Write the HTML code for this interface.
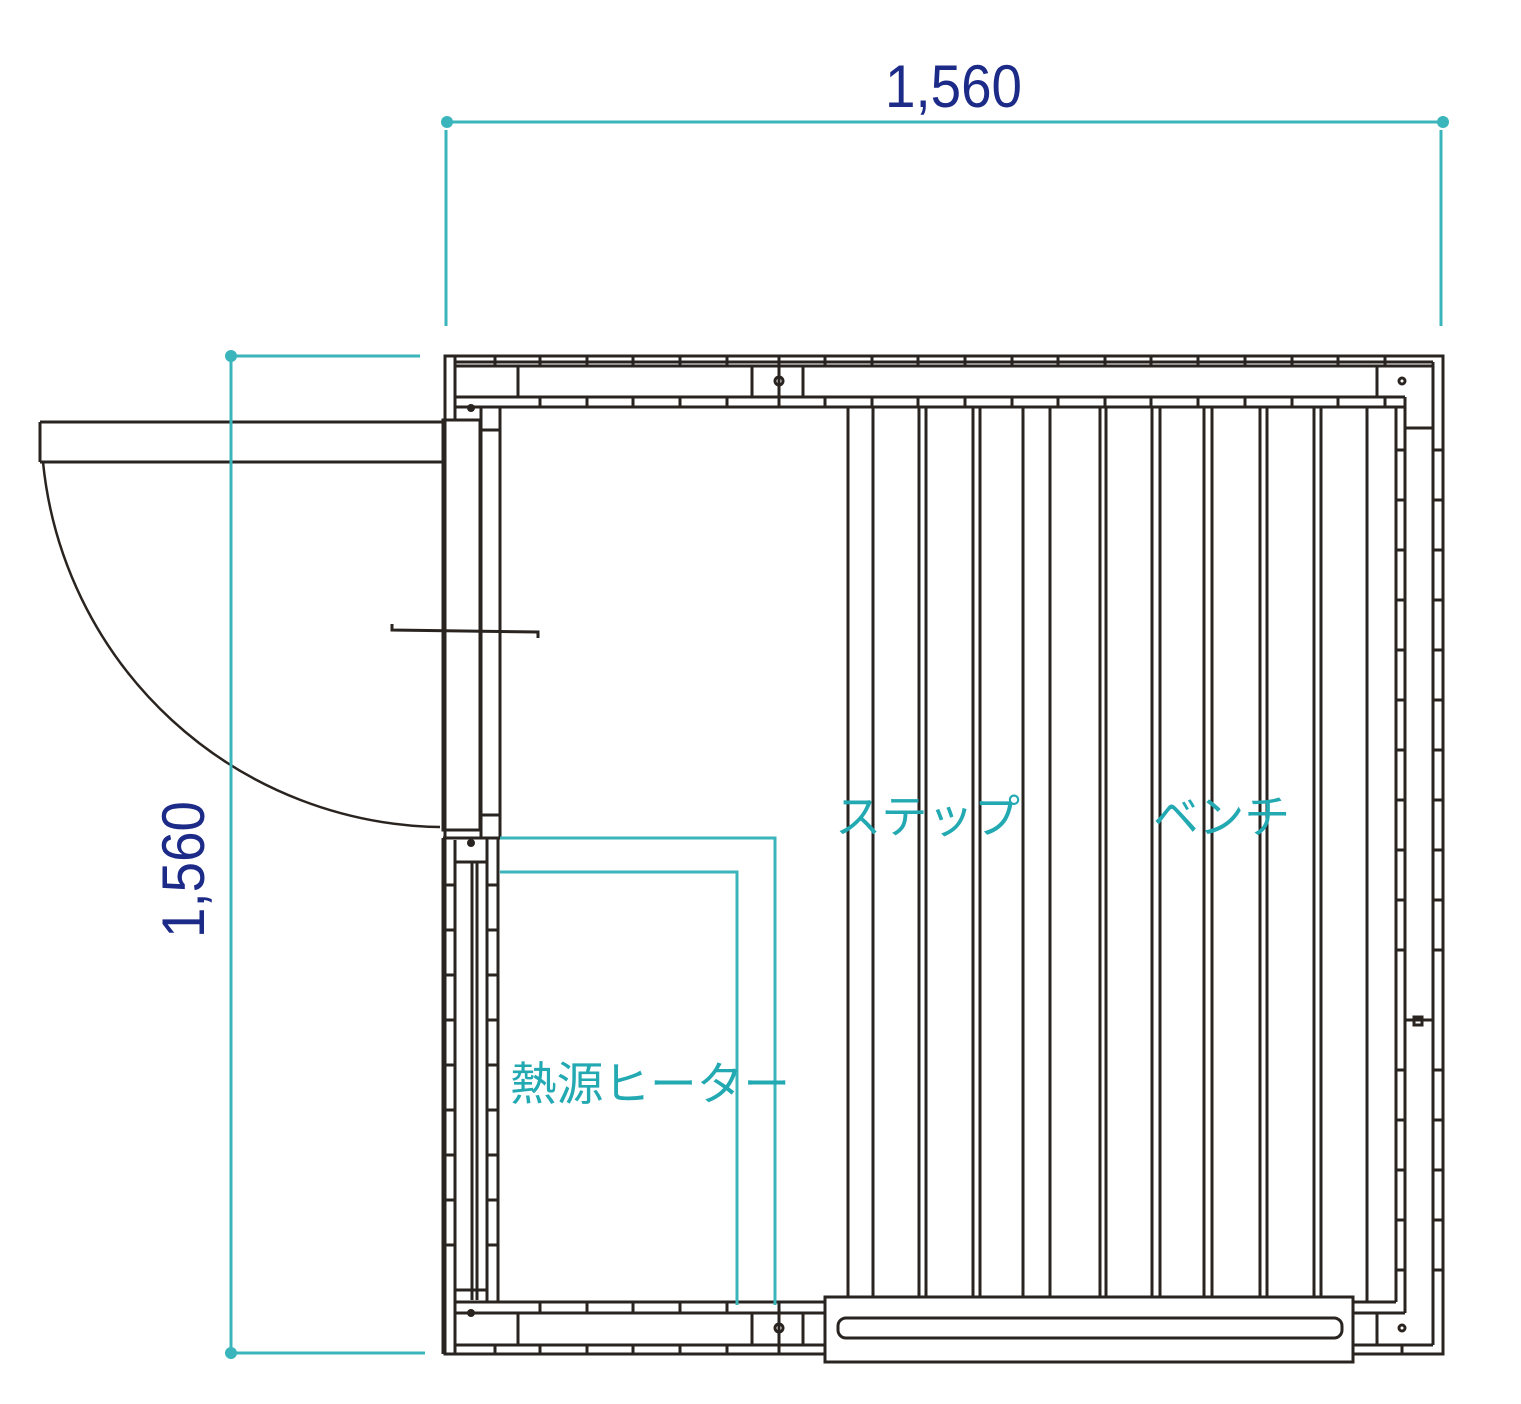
<!DOCTYPE html>
<html><head><meta charset="utf-8"><style>
html,body{margin:0;padding:0;background:#fff;}
svg{display:block;}
</style></head><body>
<svg width="1521" height="1404" viewBox="0 0 1521 1404" xmlns="http://www.w3.org/2000/svg">
<g stroke="#2a2420" stroke-width="3" fill="none">
  <rect x="445" y="356" width="998" height="998"/>
  <line x1="455" y1="362" x2="1433" y2="362"/>
  <line x1="455" y1="366" x2="1433" y2="366"/>
  <line x1="455" y1="397" x2="1405" y2="397"/>
  <line x1="455" y1="407" x2="1405" y2="407"/>
  <line x1="455" y1="356" x2="455" y2="420"/>
  <line x1="455" y1="840" x2="455" y2="1354"/>
  <line x1="1433" y1="362" x2="1433" y2="1345"/>
  <line x1="1405" y1="397" x2="1405" y2="1313"/>
  <line x1="1396" y1="407" x2="1396" y2="1302"/>
  <line x1="1405" y1="428" x2="1432" y2="428"/>
  <line x1="1405" y1="1020" x2="1433" y2="1020"/>
  <line x1="1377" y1="366" x2="1377" y2="397"/>
  <line x1="455" y1="1302" x2="825" y2="1302"/>
  <line x1="455" y1="1313" x2="825" y2="1313"/>
  <line x1="455" y1="1345" x2="825" y2="1345"/>
  <line x1="1353" y1="1302" x2="1396" y2="1302"/>
  <line x1="1353" y1="1313" x2="1405" y2="1313"/>
  <line x1="1353" y1="1345" x2="1433" y2="1345"/>
  <line x1="518" y1="1313" x2="518" y2="1345"/>
  <line x1="752" y1="1313" x2="752" y2="1345"/>
  <line x1="803" y1="1313" x2="803" y2="1345"/>
  <line x1="1377" y1="1313" x2="1377" y2="1345"/>
  <line x1="518" y1="366" x2="518" y2="397"/>
  <line x1="752" y1="366" x2="752" y2="397"/>
  <line x1="803" y1="366" x2="803" y2="397"/>
  <circle cx="779" cy="381" r="4"/>
  <circle cx="779" cy="1328" r="4"/>
  <circle cx="1402" cy="381" r="3"/>
  <circle cx="1402" cy="1328" r="3"/>
  <rect x="1414" y="1017" width="8" height="8"/>
  <rect x="443" y="420" width="37" height="410"/>
  <line x1="481" y1="407" x2="481" y2="838"/>
  <line x1="500" y1="407" x2="500" y2="838"/>
  <line x1="481" y1="430" x2="500" y2="430"/>
  <line x1="481" y1="815" x2="500" y2="815"/>
  <line x1="443" y1="838" x2="500" y2="838"/>
  <line x1="443" y1="838" x2="443" y2="1354"/>
  <line x1="472" y1="862" x2="472" y2="1300"/>
  <line x1="477" y1="862" x2="477" y2="1300"/>
  <line x1="487" y1="838" x2="487" y2="1302"/>
  <line x1="498" y1="838" x2="498" y2="1302"/>
  <line x1="456" y1="862" x2="487" y2="862"/>
  <line x1="456" y1="1290" x2="487" y2="1290"/>
  <line x1="40" y1="422" x2="443" y2="422"/>
  <line x1="40" y1="462" x2="443" y2="462"/>
  <line x1="40" y1="422" x2="40" y2="462"/>
  <path d="M43 462 A405 405 0 0 0 440 827" stroke-width="2.5"/>
  <path d="M392 624 L392 630 L538 632 L538 638" stroke-width="3"/>
  <g stroke-width="3">
    <line x1="848" y1="407" x2="848" y2="1297"/><line x1="873" y1="407" x2="873" y2="1297"/>
    <line x1="919" y1="407" x2="919" y2="1297"/><line x1="926" y1="407" x2="926" y2="1297"/>
    <line x1="973" y1="407" x2="973" y2="1297"/><line x1="980" y1="407" x2="980" y2="1297"/>
    <line x1="1023" y1="407" x2="1023" y2="1297"/><line x1="1050" y1="407" x2="1050" y2="1297"/>
    <line x1="1100" y1="407" x2="1100" y2="1297"/><line x1="1106" y1="407" x2="1106" y2="1297"/>
    <line x1="1152" y1="407" x2="1152" y2="1297"/><line x1="1160" y1="407" x2="1160" y2="1297"/>
    <line x1="1204" y1="407" x2="1204" y2="1297"/><line x1="1212" y1="407" x2="1212" y2="1297"/>
    <line x1="1260" y1="407" x2="1260" y2="1297"/><line x1="1267" y1="407" x2="1267" y2="1297"/>
    <line x1="1314" y1="407" x2="1314" y2="1297"/><line x1="1321" y1="407" x2="1321" y2="1297"/>
    <line x1="1367" y1="407" x2="1367" y2="1302"/>
  </g>
  <rect x="825" y="1297" width="528" height="65" fill="#fff"/>
  <rect x="838" y="1318" width="504" height="20" rx="8"/>
</g>
<g stroke="#2a2420" stroke-width="3">
  <path d="M495 356v10M540 356v10M587 356v10M633 356v10M680 356v10M727 356v10M779 356v41M825 356v10M872 356v10M918 356v10M965 356v10M1012 356v10M1058 356v10M1105 356v10M1151 356v10M1198 356v10M1245 356v10M1292 356v10M1338 356v10M1385 356v10"/>
  <path d="M540 397v10M587 397v10M633 397v10M680 397v10M727 397v10M779 397v10M825 397v10M872 397v10M918 397v10M965 397v10M1012 397v10M1058 397v10M1105 397v10M1151 397v10M1198 397v10M1245 397v10M1292 397v10M1338 397v10M1385 397v10"/>
  <path d="M495 1345v10M540 1345v10M587 1345v10M633 1345v10M680 1345v10M727 1345v10M779 1302v52M1402 1345v10"/>
  <path d="M540 1302v11M587 1302v11M633 1302v11M680 1302v11M727 1302v11"/>
  <path d="M443 885h12M443 930h12M443 975h12M443 1020h12M443 1065h12M443 1110h12M443 1155h12M443 1200h12M443 1245h12"/>
  <path d="M487 885h11M487 930h11M487 975h11M487 1020h11M487 1065h11M487 1110h11M487 1155h11M487 1200h11M487 1245h11"/>
  <path d="M1396 450h9M1396 500h9M1396 550h9M1396 600h9M1396 650h9M1396 700h9M1396 750h9M1396 800h9M1396 850h9M1396 900h9M1396 950h9M1396 1070h9M1396 1120h9M1396 1170h9M1396 1220h9M1396 1270h9"/>
  <path d="M1433 450h10M1433 500h10M1433 550h10M1433 600h10M1433 650h10M1433 700h10M1433 750h10M1433 800h10M1433 850h10M1433 900h10M1433 950h10M1433 1070h10M1433 1120h10M1433 1170h10M1433 1220h10M1433 1270h10"/>
</g>
<circle cx="471" cy="408" r="4" fill="#2a2420"/>
<circle cx="471" cy="843" r="4" fill="#2a2420"/>
<circle cx="471" cy="1313" r="4" fill="#2a2420"/>
<g stroke="#3ab5bc" stroke-width="3" fill="none">
  <line x1="447" y1="122" x2="1443" y2="122"/>
  <line x1="446" y1="130" x2="446" y2="326"/>
  <line x1="1441" y1="130" x2="1441" y2="326"/>
  <line x1="231" y1="356" x2="231" y2="1353"/>
  <line x1="231" y1="356" x2="420" y2="356"/>
  <line x1="231" y1="1353" x2="425" y2="1353"/>
  <path d="M500 838H775V1305M500 872H737V1305"/>
</g>
<g fill="#3ab5bc">
  <circle cx="447" cy="122" r="6"/><circle cx="1443" cy="122" r="6"/>
  <circle cx="231" cy="356" r="6"/><circle cx="231" cy="1353" r="6"/>
</g>
<text x="885" y="107" font-family="Liberation Sans, sans-serif" font-size="60" fill="#1c2a88" textLength="137" lengthAdjust="spacingAndGlyphs">1,560</text>
<text transform="translate(204,938) rotate(-90)" font-family="Liberation Sans, sans-serif" font-size="60" fill="#1c2a88" textLength="137" lengthAdjust="spacingAndGlyphs">1,560</text>
<g font-family="Liberation Sans, 'Noto Sans CJK JP', sans-serif" fill="#22a9b2">
  <text x="835" y="833" font-size="46" textLength="185" lengthAdjust="spacingAndGlyphs">ステップ</text>
  <text x="1153" y="833" font-size="46" textLength="137" lengthAdjust="spacingAndGlyphs">ベンチ</text>
  <text x="510" y="1100" font-size="46" textLength="280" lengthAdjust="spacingAndGlyphs">熱源ヒーター</text>
</g>
</svg>
</body></html>
